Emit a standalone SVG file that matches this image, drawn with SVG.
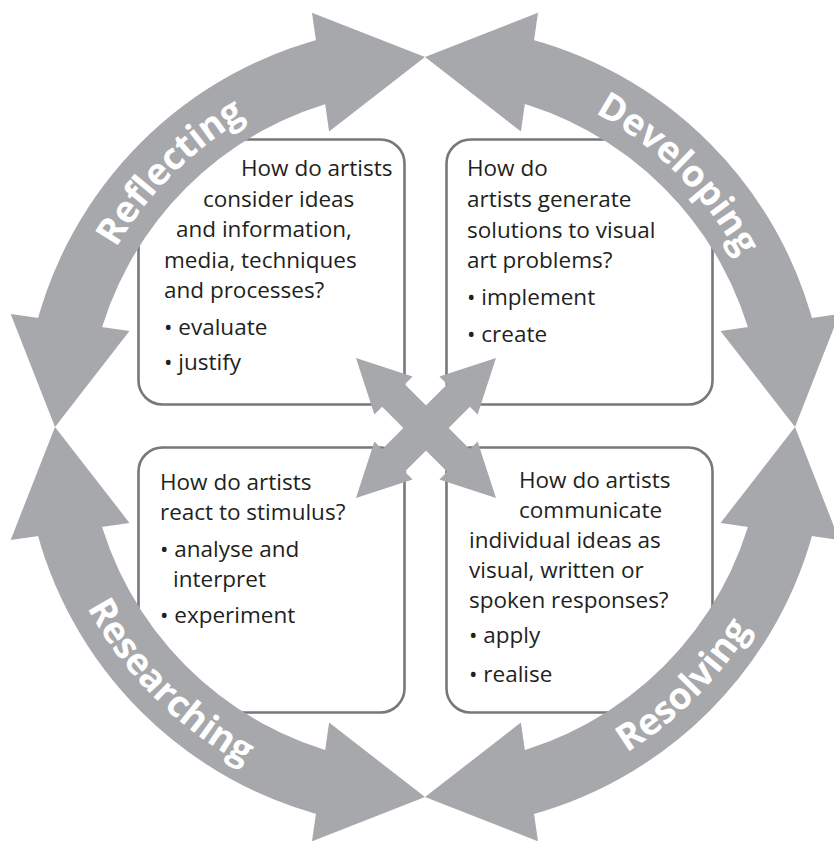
<svg xmlns="http://www.w3.org/2000/svg" width="834" height="841" viewBox="0 0 834 841">
  <defs>
    <style>
      .box { fill: #ffffff; stroke: #77787b; stroke-width: 2.6; }
      .q { font-family: "Open Sans", "Liberation Sans", sans-serif; font-size: 22.5px; fill: #231f20; }
      .shaft { fill: none; stroke: #a7a8ab; stroke-width: 64; }
      .head { fill: #a7a8ab; }
      .ring-label { font-family: "Open Sans", "Liberation Sans", sans-serif; font-weight: bold; font-size: 37px; fill: #ffffff; }
    </style>
    <!-- baselines for the ring labels: clockwise (tops outward) and counter-clockwise (tops inward) -->
    <path id="p-reflect" d="M68,427 A357,357 0 0 1 425,70"/>
    <path id="p-develop" d="M425,70 A357,357 0 0 1 782,427"/>
    <path id="p-research" d="M42,427 A383,383 0 0 0 425,810"/>
    <path id="p-resolve" d="M425,810 A383,383 0 0 0 808,427"/>
    <!-- one arm of the centre cross, pointing along +x -->
    <path id="arm" d="M-16,-16 L46,-16 L46,-27 L99,0 L46,27 L46,16 L-16,16 Z"/>
  </defs>

  <!-- question boxes -->
  <g id="box-reflecting">
    <rect class="box" x="138.5" y="139.5" width="266" height="265" rx="24"/>
    <text class="q" x="241" y="176">How do artists</text>
    <text class="q" x="203" y="207">consider ideas</text>
    <text class="q" x="176" y="237">and information,</text>
    <text class="q" x="164" y="268">media, techniques</text>
    <text class="q" x="164" y="298">and processes?</text>
    <text class="q" x="164" y="335">• evaluate</text>
    <text class="q" x="164" y="370">• justify</text>
  </g>
  <g id="box-developing">
    <rect class="box" x="446.5" y="139.5" width="266" height="265" rx="24"/>
    <text class="q" x="467" y="176">How do</text>
    <text class="q" x="467" y="207">artists generate</text>
    <text class="q" x="467" y="238">solutions to visual</text>
    <text class="q" x="467" y="268">art problems?</text>
    <text class="q" x="467" y="305">• implement</text>
    <text class="q" x="467" y="342">• create</text>
  </g>
  <g id="box-researching">
    <rect class="box" x="138.5" y="447.5" width="266" height="265" rx="24"/>
    <text class="q" x="160" y="490">How do artists</text>
    <text class="q" x="160" y="520">react to stimulus?</text>
    <text class="q" x="160" y="557">• analyse and</text>
    <text class="q" x="173" y="587">interpret</text>
    <text class="q" x="160" y="623">• experiment</text>
  </g>
  <g id="box-resolving">
    <rect class="box" x="446.5" y="447.5" width="266" height="265" rx="24"/>
    <text class="q" x="519" y="488">How do artists</text>
    <text class="q" x="519" y="518">communicate</text>
    <text class="q" x="469" y="548">individual ideas as</text>
    <text class="q" x="469" y="578">visual, written or</text>
    <text class="q" x="469" y="608">spoken responses?</text>
    <text class="q" x="469" y="643">• apply</text>
    <text class="q" x="469" y="682">• realise</text>
  </g>

  <!-- ring of double-headed arrows -->
  <g id="connectors">
    <g id="arc-reflecting">
      <path class="shaft" d="M65.07,341.25 A370,370 0 0 1 339.25,67.07"/>
      <polygon class="head" points="55,427 10.67,313.99 129.45,331.11"/>
      <polygon class="head" points="425,57 311.99,12.67 329.11,131.45"/>
      <text class="ring-label"><textPath href="#p-reflect" startOffset="50%" text-anchor="middle">Reflecting</textPath></text>
    </g>
    <g id="arc-developing">
      <path class="shaft" d="M510.75,67.07 A370,370 0 0 1 784.93,341.25"/>
      <polygon class="head" points="425,57 538.01,12.67 520.89,131.45"/>
      <polygon class="head" points="795,427 839.33,313.99 720.55,331.11"/>
      <text class="ring-label"><textPath href="#p-develop" startOffset="50%" text-anchor="middle">Developing</textPath></text>
    </g>
    <g id="arc-resolving">
      <path class="shaft" d="M784.93,512.75 A370,370 0 0 1 510.75,786.93"/>
      <polygon class="head" points="795,427 839.33,540.01 720.55,522.89"/>
      <polygon class="head" points="425,797 538.01,841.33 520.89,722.55"/>
      <text class="ring-label"><textPath href="#p-resolve" startOffset="50%" text-anchor="middle">Resolving</textPath></text>
    </g>
    <g id="arc-researching">
      <path class="shaft" d="M339.25,786.93 A370,370 0 0 1 65.07,512.75"/>
      <polygon class="head" points="425,797 311.99,841.33 329.11,722.55"/>
      <polygon class="head" points="55,427 10.67,540.01 129.45,522.89"/>
      <text class="ring-label"><textPath href="#p-research" startOffset="50%" text-anchor="middle">Researching</textPath></text>
    </g>
    <!-- four-way cross in the middle -->
    <g id="cross" class="head" transform="translate(426,428)">
      <use href="#arm" transform="rotate(45)"/>
      <use href="#arm" transform="rotate(135)"/>
      <use href="#arm" transform="rotate(225)"/>
      <use href="#arm" transform="rotate(315)"/>
    </g>
  </g>
</svg>
